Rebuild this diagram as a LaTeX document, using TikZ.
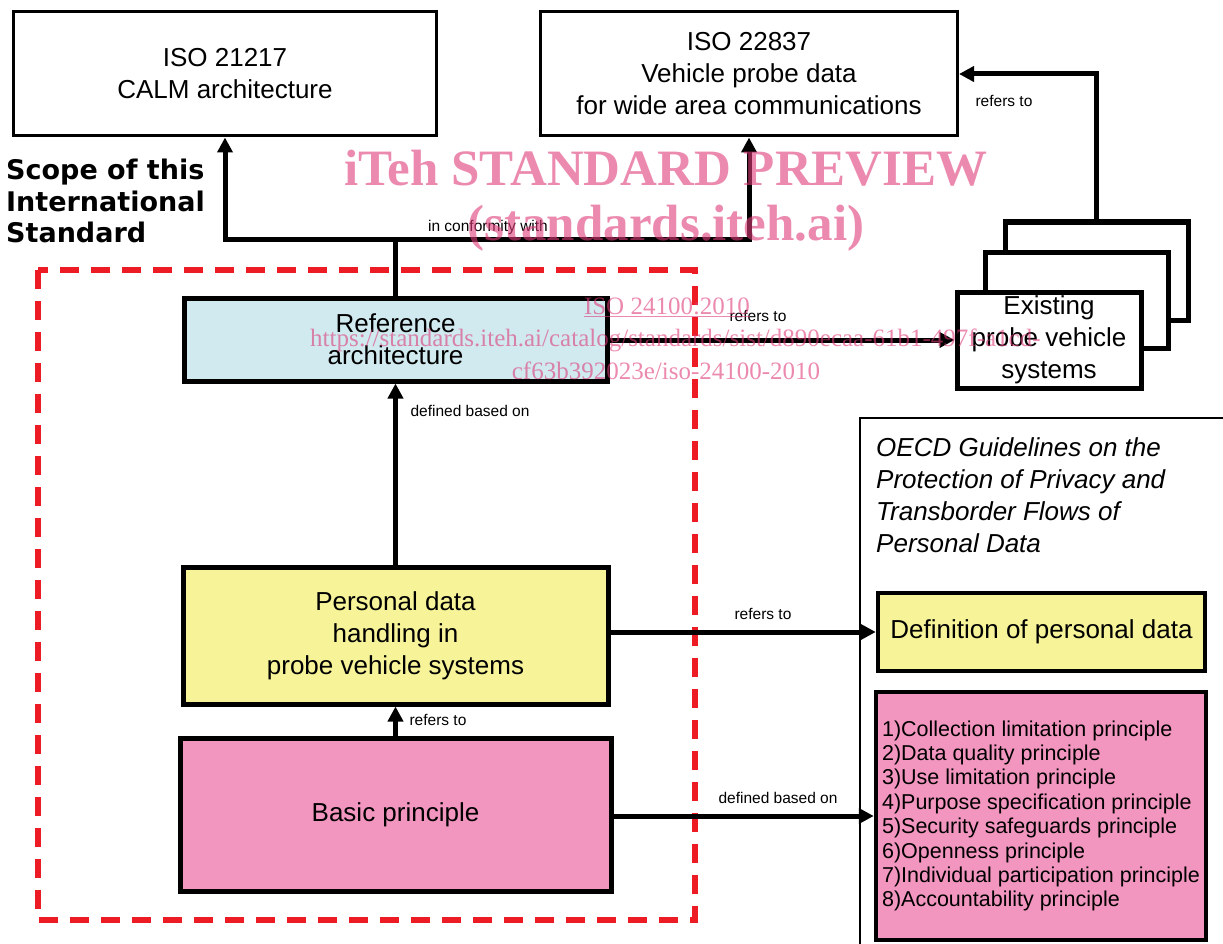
\documentclass[tikz,border=0pt]{standalone}
\usepackage{fontspec}
\setmainfont{Liberation Sans}
\newfontfamily\scopefont{DejaVu Sans}
\newfontfamily\wmfont{Liberation Serif}
\usetikzlibrary{arrows.meta}
\definecolor{boxblue}{RGB}{209,234,240}
\definecolor{boxyellow}{RGB}{247,243,153}
\definecolor{boxpink}{RGB}{242,150,192}
\definecolor{scopered}{RGB}{237,28,36}
\definecolor{wmpink}{RGB}{222,60,120}
\tikzset{
  box/.style={draw=black, line width=5pt, inner sep=0pt, align=center,
    font=\fontsize{26}{32}\selectfont},
  topbox/.style={box, line width=3pt},
  conn/.style={line width=5pt},
  arr/.style={conn, -{Triangle[length=15pt,width=15pt]}},
  lbl/.style={font=\fontsize{15.5}{18}\selectfont, inner sep=0pt},
  wm/.style={text=wmpink, opacity=0.6, inner sep=0pt, font=\wmfont},
}
\begin{document}
\begin{tikzpicture}[x=1pt,y=-1pt]
\useasboundingbox (0,0) rectangle (1223,944);
% scope frame
\draw[scopered, line width=6pt, dash pattern=on 19pt off 12pt] (38,270) rectangle (695,920);
% OECD frame
\draw[line width=2pt] (860,946) -- (860,418) -- (1226,418);
% boxes
\node[topbox, minimum width=423pt, minimum height=124pt] (iso21217) at (225,74) {ISO 21217\\CALM architecture};
\node[topbox, minimum width=417pt, minimum height=124pt] (iso22837) at (749,74) {ISO 22837\\Vehicle probe data\\for wide area communications};
\node[box, fill=boxblue, minimum width=423pt, minimum height=83pt] (refarch) at (395.5,339.5) {Reference\\architecture};
\node[box, fill=boxyellow, minimum width=425pt, minimum height=137pt] (personal) at (395.5,635.5) {Personal data\\handling in\\probe vehicle systems};
\node[box, fill=boxpink, minimum width=431pt, minimum height=153pt] (basic) at (395.5,814.5) {Basic principle};
\node[box, fill=white, minimum width=183pt, minimum height=98pt] (back) at (1096.5,271) {};
\node[box, fill=white, minimum width=183pt, minimum height=96pt] (mid) at (1076.5,300) {};
\node[box, fill=white, minimum width=184pt, minimum height=96pt] (front) at (1049,340) {Existing\\probe vehicle\\systems};
\node[box, line width=4.5pt, fill=boxyellow, minimum width=327pt, minimum height=78pt] (defn) at (1041.5,632) {Definition of personal data};
\node[box, line width=4.5pt, fill=boxpink, minimum width=330pt, minimum height=248pt, align=left,
  font=\fontsize{21.5}{24.4}\selectfont] (princ) at (1041,816) {1)Collection limitation principle\\2)Data quality principle\\3)Use limitation principle\\4)Purpose specification principle\\5)Security safeguards principle\\6)Openness principle\\7)Individual participation principle\\8)Accountability principle};
\node[anchor=west, align=left, inner sep=0pt, font=\fontsize{26}{32}\selectfont\itshape] (oecdtitle) at (876,495) {OECD Guidelines on the\\Protection of Privacy and\\Transborder Flows of\\Personal Data};
\node[anchor=west, align=left, inner sep=0pt, font=\scopefont\bfseries\fontsize{27}{31.5}\selectfont] (scope) at (6,201) {Scope of this\\International\\Standard};
% connectors
\coordinate (junc) at ([yshift=56pt]refarch.north);
\draw[conn, {Triangle[length=15pt,width=15pt]}-{Triangle[length=15pt,width=15pt]}] (iso21217.south) |- (junc) -| (iso22837.south);
\draw[conn] (refarch.north) -- (junc);
\node[lbl] (lconf) at (488,227) {in conformity with};
\draw[arr] (personal.north) -- (refarch.south);
\node[lbl] (ldef1) at (470,411) {defined based on};
\draw[arr] (basic.north) -- (personal.south);
\node[lbl] (lref1) at (438,720) {refers to};
\draw[arr] (refarch.east |- front.west) -- (front.west);
\node[lbl] (lref2) at (758,316) {refers to};
\draw[arr] (back.north) |- (iso22837.east);
\node[lbl] (lref3) at (1004,101) {refers to};
\draw[arr] (personal.east |- defn.west) -- (defn.west);
\node[lbl] (lref4) at (763,614) {refers to};
\draw[arr] (basic.east |- princ.west) -- (princ.west);
\node[lbl] (ldef2) at (778,798) {defined based on};
% watermark
\node[wm, font=\wmfont\bfseries\fontsize{51}{56}\selectfont] (wm1) at (666,168) {iTeh STANDARD PREVIEW};
\node[wm, font=\wmfont\bfseries\fontsize{51}{56}\selectfont] (wm2) at (666,228) {(standards.iteh.ai)};
\node[wm, font=\wmfont\fontsize{25}{30}\selectfont] (wm3) at (667,307) {\underline{ISO 24100:2010}};
\node[wm, anchor=west, font=\wmfont\fontsize{25}{30}\selectfont] (wm4) at (310,340) {https://standards.iteh.ai/catalog/standards/sist/d890ecaa-61b1-497f-a1cd-};
\node[wm, font=\wmfont\fontsize{25}{30}\selectfont] (wm5) at (666,371) {cf63b392023e/iso-24100-2010};
\end{tikzpicture}
\end{document}
